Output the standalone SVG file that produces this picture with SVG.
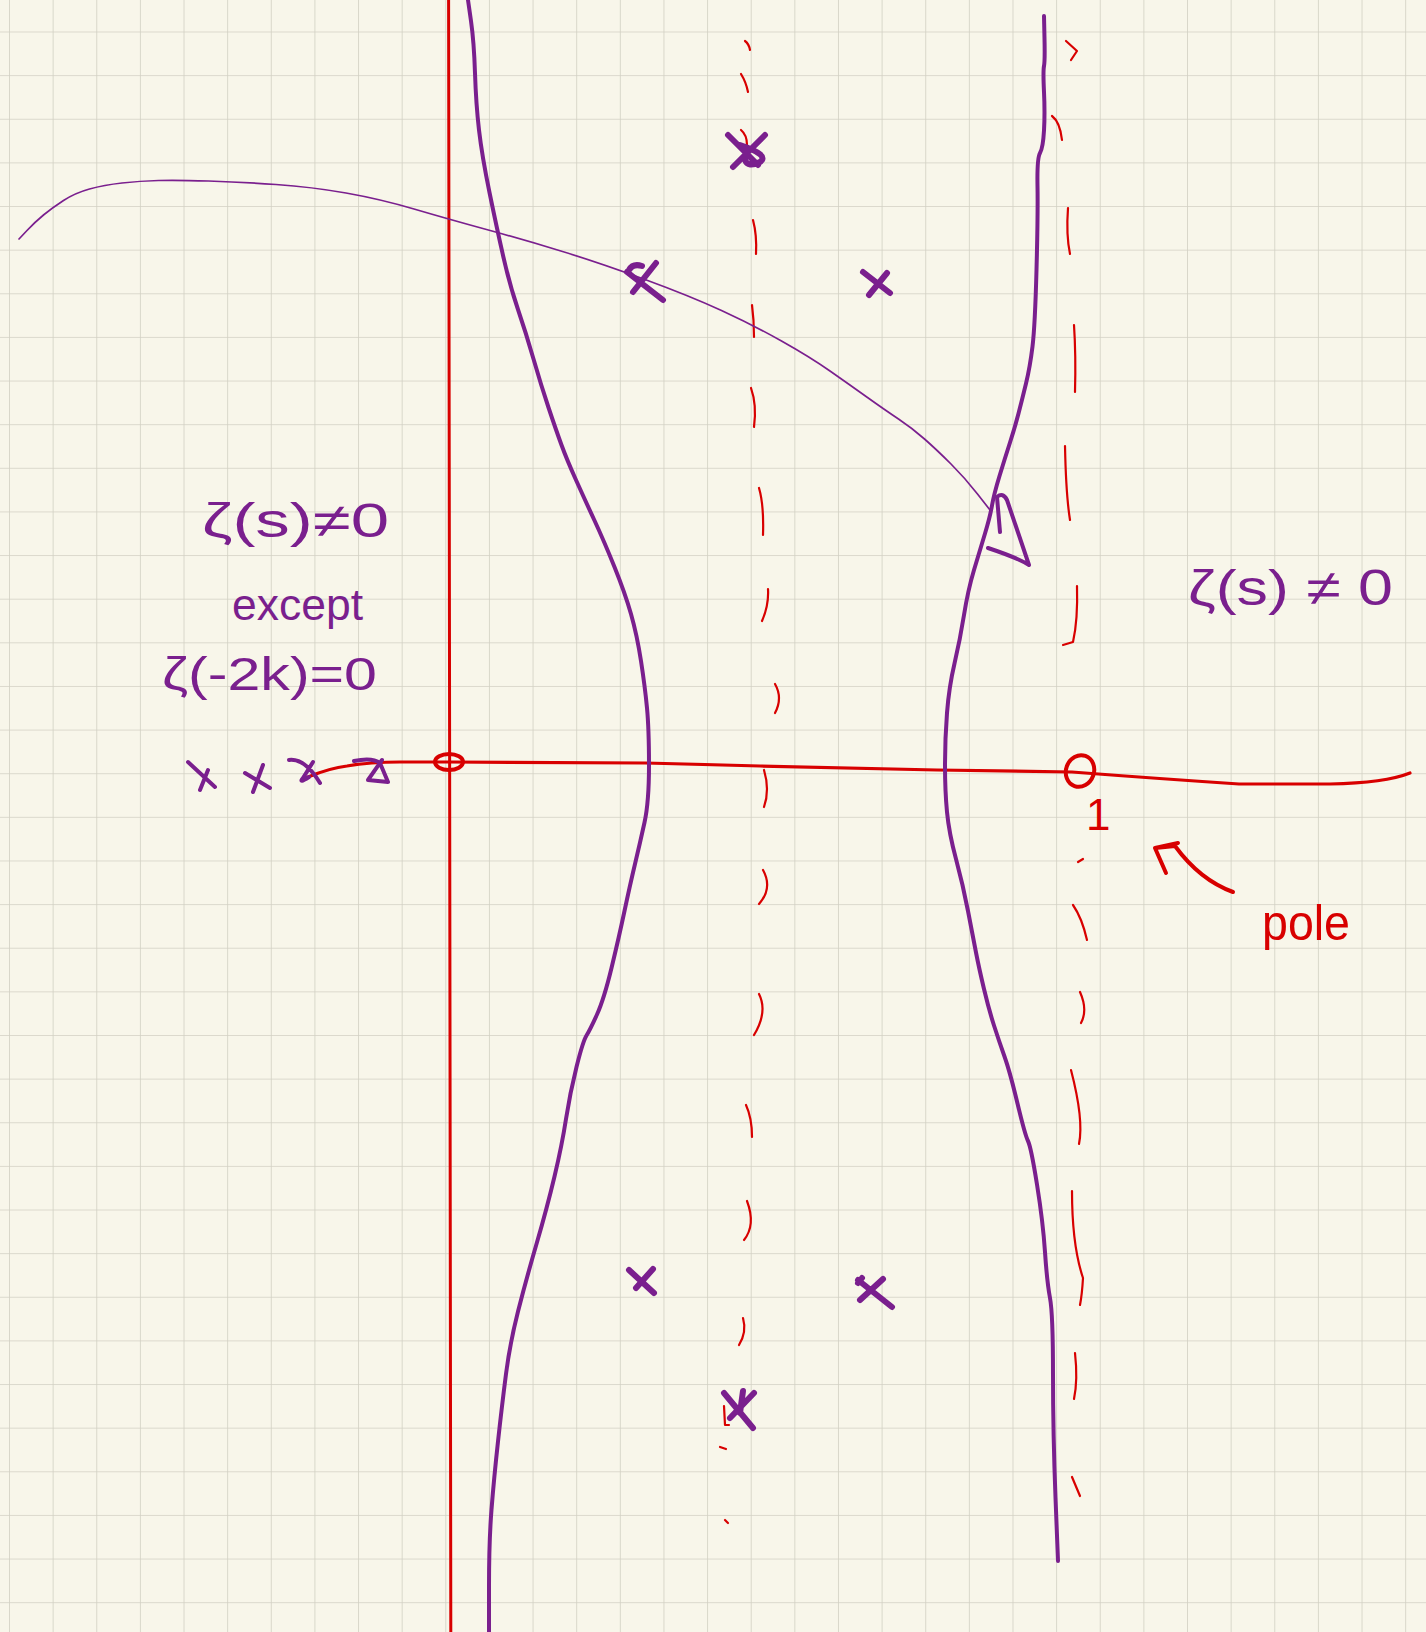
<svg xmlns="http://www.w3.org/2000/svg" width="1426" height="1632" viewBox="0 0 1426 1632">
<defs>
<pattern id="grid" x="9" y="31.5" width="43.63" height="43.63" patternUnits="userSpaceOnUse">
<path d="M0,0 V43.63 M0,0 H43.63" fill="none" stroke="#d2d0c3" stroke-width="1.6"/>
</pattern>
<style>
.pur{fill:none;stroke:#7a1f8e;stroke-linecap:round;stroke-linejoin:round}
.red{fill:none;stroke:#d80000;stroke-linecap:round;stroke-linejoin:round}
.dash{fill:none;stroke:#d80000;stroke-width:2.2;stroke-linecap:round;stroke-linejoin:round}
.xm{fill:none;stroke:#7a1f8e;stroke-width:6;stroke-linecap:round;stroke-linejoin:round}
.tp{fill:#7a1f8e;font-family:"Liberation Sans","DejaVu Sans",sans-serif}
.tr{fill:#d80000;font-family:"Liberation Sans","DejaVu Sans",sans-serif}
</style>
</defs>
<rect width="1426" height="1632" fill="#f8f6ea"/>
<rect width="1426" height="1632" fill="url(#grid)"/>

<g id="axes">
<path class="red" stroke-width="3" d="M448.6,0 L450.8,1632"/>
<path class="red" stroke-width="3.2" d="M308,777 Q330,768 347,766 Q370,762 400,762 L449,762 L645,763 L760,766 L937,770 L1072,772 Q1150,778 1239,784 L1330,784 Q1385,783 1410,773"/>
<g id="origin"><ellipse cx="449" cy="762" rx="14" ry="8" class="red" stroke-width="4"/></g>
<g id="pole-one"><ellipse cx="1080" cy="771" rx="14" ry="16" transform="rotate(20 1080 771)" class="red" stroke-width="4"/></g>
</g>

<g id="critical-strip">
<path class="pur" stroke-width="4" d="M468,0 L471,21 Q474,42 475,73 Q476,104 479,130 Q482,156 489.5,192.5 Q497,229 503.5,257.5 Q510,286 518,309.5 Q526,333 533.5,359 Q541,385 548.5,407.5 Q556,430 561.5,445 Q567,460 576,480 Q585,500 594.5,520.5 Q604,541 614.5,567 Q625,593 631,614 Q637,635 641,661 Q645,687 647,708 Q649,729 649,765.5 Q649,802 644.5,822.5 Q640,843 635,864 Q630,885 624.5,911 Q619,937 611.5,968 Q604,999 597,1014.5 Q590,1030 586.5,1035.5 Q583,1041 576.5,1067 Q570,1093 566,1119 Q562,1145 554.5,1176.5 Q547,1208 536.5,1244 Q526,1280 518,1311.5 Q510,1343 506,1374 Q502,1405 498,1441.5 Q494,1478 491.5,1509.5 Q489,1541 489,1586.5 L489,1632"/>
<path class="pur" stroke-width="4" d="M1044,16 L1044.5,38.5 Q1045,61 1044,66 Q1043,71 1044,92 Q1045,113 1044,130.5 Q1043,148 1040,153 Q1037,158 1037.5,186 Q1038,214 1036.5,270 Q1035,326 1032.5,346.5 Q1030,367 1026,383.5 Q1022,400 1018.5,413.5 Q1015,427 1010,442.5 Q1005,458 999.5,476 Q994,494 992,505.5 Q990,517 985,533.5 Q980,550 974,570 Q968,590 964,615 Q960,640 954.5,663.5 Q949,687 947,713 Q945,739 945,765 Q945,791 947,812 Q949,833 956,859 Q963,885 968,911 Q973,937 976,952.5 Q979,968 984,989 Q989,1010 994,1025.5 Q999,1041 1004.5,1056.5 Q1010,1072 1017.5,1103.5 Q1025,1135 1028,1141 Q1031,1147 1037,1184.5 Q1043,1222 1045,1252 Q1047,1282 1050,1298 Q1053,1314 1053,1374 Q1053,1434 1055.5,1497.5 L1058,1561"/>
</g>

<g id="critical-line">
<path class="dash" d="M745,41 Q749,44 750,50"/>
<path class="dash" d="M741,74 Q746,82 748,92"/>
<path class="dash" d="M741,130 Q747,135 747,145"/>
<path class="dash" d="M753,220 Q757,235 756,254"/>
<path class="dash" d="M752,305 Q754,320 754,337"/>
<path class="dash" d="M751,388 Q757,405 754,427"/>
<path class="dash" d="M759,488 Q764,505 763,535"/>
<path class="dash" d="M768,589 Q769,605 762,621"/>
<path class="dash" d="M775,684 Q783,698 775,713"/>
<path class="dash" d="M764,770 Q770,790 764,807"/>
<path class="dash" d="M763,870 Q773,888 759,904"/>
<path class="dash" d="M759,994 Q768,1012 754,1035"/>
<path class="dash" d="M746,1105 Q752,1118 752,1137"/>
<path class="dash" d="M747,1201 Q756,1225 744,1240"/>
<path class="dash" d="M743,1318 Q747,1332 739,1345"/>
<path class="dash" d="M724,1406 L725,1425 L729,1425"/>
<path class="dash" d="M720,1447 L726,1449"/>
<path class="dash" d="M725,1520 L728,1523"/>
</g>

<g id="line-re-1">
<path class="dash" d="M1066,41 L1077,51 L1071,60"/>
<path class="dash" d="M1052,116 Q1060,122 1062,140"/>
<path class="dash" d="M1068,208 Q1066,235 1070,254"/>
<path class="dash" d="M1074,325 Q1076,355 1075,392"/>
<path class="dash" d="M1065,446 Q1066,495 1070,520"/>
<path class="dash" d="M1077,586 Q1078,620 1073,642 L1063,645"/>
<path class="dash" d="M1078,862 L1083,859"/>
<path class="dash" d="M1073,905 Q1082,918 1087,940"/>
<path class="dash" d="M1080,992 Q1088,1010 1081,1023"/>
<path class="dash" d="M1071,1070 Q1084,1120 1079,1144"/>
<path class="dash" d="M1072,1191 Q1072,1245 1083,1278 Q1082,1295 1080,1305"/>
<path class="dash" d="M1075,1353 Q1078,1380 1074,1399"/>
<path class="dash" d="M1072,1477 L1080,1496"/>
</g>

<g id="connectors">
<path class="pur" stroke-width="1.7" d="M19,239 L27,230.5 Q35,222 43.5,215 Q52,208 63.5,200.5 Q75,193 89.5,189 Q104,185 122,183 Q140,181 158.5,180.5 Q177,180 208.5,181 Q240,182 276,184.5 Q312,187 346,193 Q380,199 414,209 Q448,219 486.5,229.5 Q525,240 562.5,251.5 Q600,263 645,279.5 Q690,296 721.5,310.5 Q753,325 781.5,341 Q810,357 830,371 Q850,385 867.5,397.5 Q885,410 898.5,419 Q912,428 924.5,439 Q937,450 951,464 Q965,478 977.5,494 L990,510"/>
<path class="pur" stroke-width="4" d="M1000,532 L997,497 Q1003,492 1007,500 L1029,565 Q1018,558 988,548"/>
<path class="red" stroke-width="4" d="M1233,892 Q1200,880 1175,846 L1155,848 M1155,848 L1166,873 M1155,848 L1178,843"/>
</g>

<g id="zeros">
<path class="xm" d="M728,135 L758,165 M765,135 L733,167 M740,145 Q770,155 760,162 Q748,168 745,160"/>
<path class="xm" d="M627,272 L663,300 M656,263 L633,292 M629,270 Q633,263 642,266"/>
<path class="xm" d="M863,272 L890,293 M887,273 L869,295"/>
<path class="xm" d="M629,1270 L654,1293 M653,1269 L636,1288"/>
<path class="xm" d="M858,1280 L892,1307 M883,1279 L860,1300 M858,1283 L862,1278"/>
<path class="xm" d="M724,1393 L753,1428 M754,1393 L730,1418 M743,1391 L740,1413"/>
</g>

<g id="trivial-zeros">
<path class="pur" stroke-width="4" d="M188,762 L215,787 M208,770 L200,790"/>
<path class="pur" stroke-width="4" d="M245,773 L270,788 M263,765 L253,792"/>
<path class="pur" stroke-width="4" d="M289,760 Q305,758 320,783 M313,762 L303,778 M303,778 Q298,784 309,777"/>
<path class="pur" stroke-width="4" d="M354,761 Q372,757 380,763 L388,782 L368,780 L382,760"/>
</g>

<g id="label-left">
<text class="tp" x="202" y="537" font-size="48" textLength="187" lengthAdjust="spacingAndGlyphs">ζ(s)≠0</text>
<text class="tp" x="232" y="620" font-size="44" textLength="131" lengthAdjust="spacingAndGlyphs">except</text>
<text class="tp" x="162" y="690" font-size="46" textLength="215" lengthAdjust="spacingAndGlyphs">ζ(-2k)=0</text>
</g>
<g id="label-right">
<text class="tp" x="1188" y="605" font-size="50" textLength="205" lengthAdjust="spacingAndGlyphs">ζ(s) ≠ 0</text>
</g>
<g id="label-one">
<text class="tr" x="1086" y="830" font-size="44">1</text>
</g>
<g id="label-pole">
<text class="tr" x="1262" y="940" font-size="50" textLength="88" lengthAdjust="spacingAndGlyphs">pole</text>
</g>
</svg>
